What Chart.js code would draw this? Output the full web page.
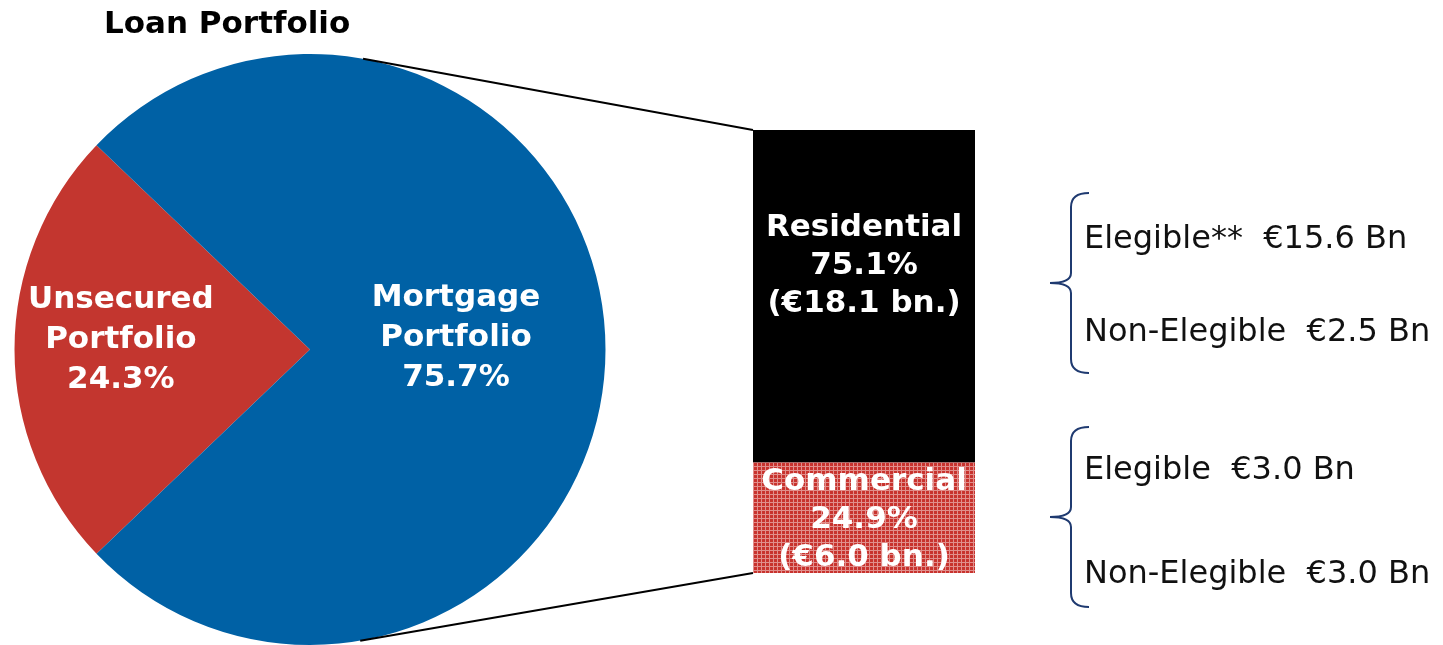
<!DOCTYPE html>
<html>
<head>
<meta charset="utf-8">
<title>Loan Portfolio</title>
<script src="https://cdn.jsdelivr.net/npm/chart.js@4.4.1/dist/chart.umd.min.js"></script>
<style>
  html, body { margin: 0; padding: 0; background: #fff; overflow: hidden; }
  #wrap { position: relative; width: 1443px; height: 645px; overflow: hidden; font-family: "DejaVu Sans", Verdana, sans-serif; }
  #wrap canvas { position: absolute; }
  #pieChart { left: 0; top: 0; }
  #barChart { left: 753px; top: 130px; }
  .title { position: absolute; left: 104px; top: 7px; font-weight: bold; font-size: 31px; line-height: 31px; color: #000; }
  .note { position: absolute; left: 1084px; font-size: 32px; line-height: 32px; white-space: pre; color: #111; }
</style>
</head>
<body>
<div id="wrap">
  <canvas id="pieChart" width="1443" height="645"></canvas>
  <canvas id="barChart" width="222" height="443"></canvas>
  <div class="title">Loan Portfolio</div>
  <div id="notes"></div>
</div>
<script>
// loan portfolio split
const portfolioNames = [['Unsecured', 'Portfolio'], ['Mortgage', 'Portfolio']];
const portfolioShares = [24.3, 75.7];
const portfolioColors = ['#C3362F', '#0061A5'];

// mortgage breakdown (stacked bottom -> top)
const mortgageNames = ['Commercial', 'Residential'];
const mortgageShares = [24.9, 75.1];
const mortgageAmounts = [6.0, 18.1];

// eligible / non-eligible amounts, € Bn
const residentialLabels = ['Elegible**', 'Non-Elegible'];
const residentialSplit = [15.6, 2.5];
const commercialLabels = ['Elegible', 'Non-Elegible'];
const commercialSplit = [3.0, 3.0];

const FONT_BOLD = 'bold 31px "DejaVu Sans", Verdana, sans-serif';

// red fill with a light grid for the commercial block
const barCanvas = document.getElementById('barChart');
function makeGridPattern(ctx) {
    const tile = document.createElement('canvas');
    tile.width = 4;
    tile.height = 4;
    const t = tile.getContext('2d');
    t.fillStyle = '#C8332E';
    t.fillRect(0, 0, 4, 4);
    t.fillStyle = 'rgba(255,255,255,0.45)';
    t.fillRect(0, 0, 4, 1);
    t.fillRect(0, 1, 1, 3);
    return ctx.createPattern(tile, 'repeat');
}

// labels inside the stacked bar
const barLabels = {
    id: 'barLabels',
    afterDatasetsDraw(chart, args, opts) {
        const ctx = chart.ctx;
        ctx.save();
        ctx.font = FONT_BOLD;
        ctx.fillStyle = '#fff';
        ctx.textAlign = 'center';
        chart.data.datasets.forEach((ds, i) => {
            const bar = chart.getDatasetMeta(i).data[0];
            const lines = [ds.label, ds.data[0].toFixed(1) + '%', '(€' + mortgageAmounts[i].toFixed(1) + ' bn.)'];
            const cy = (bar.y + bar.base) / 2 + opts.shift[i];
            lines.forEach((txt, k) => ctx.fillText(txt, bar.x, cy + (k - 1) * opts.lineHeight));
        });
        ctx.restore();
    }
};

const barChart = new Chart(barCanvas.getContext('2d'), {
    type: 'bar',
    data: {
        labels: ['Mortgage'],
        datasets: mortgageNames.map((name, i) => ({
            label: name,
            data: [mortgageShares[i]],
            backgroundColor: i === 0 ? makeGridPattern(barCanvas.getContext('2d')) : '#000000',
            borderWidth: 0,
            categoryPercentage: 1,
            barPercentage: 1
        }))
    },
    options: {
        responsive: false,
        animation: false,
        layout: { padding: 0 },
        scales: {
            x: { stacked: true, display: false },
            y: { stacked: true, display: false, min: 0, max: 100 }
        },
        plugins: {
            legend: { display: false },
            tooltip: { enabled: false },
            barLabels: { lineHeight: 38, shift: [10, -22] }
        }
    },
    plugins: [barLabels]
});

// pie labels, connector lines and braces
const pieExtras = {
    id: 'pieExtras',
    afterDatasetsDraw(chart, args, opts) {
        const ctx = chart.ctx;
        const arcs = chart.getDatasetMeta(0).data;
        ctx.save();
        ctx.font = FONT_BOLD;
        ctx.fillStyle = '#fff';
        ctx.textAlign = 'center';
        arcs.forEach((arc, i) => {
            const mid = (arc.startAngle + arc.endAngle) / 2;
            const r = arc.outerRadius * opts.labelRadius[i];
            const x = arc.x + Math.cos(mid) * r;
            const y = arc.y + Math.sin(mid) * r + opts.labelShift[i];
            const lines = [...portfolioNames[i], portfolioShares[i].toFixed(1) + '%'];
            lines.forEach((txt, k) => ctx.fillText(txt, x, y + (k - 1) * opts.lineHeight));
        });

        // tangent lines from the bar corners to the pie
        const c = arcs[0];
        const ox = barCanvas.offsetLeft, oy = barCanvas.offsetTop;
        const topBar = barChart.getDatasetMeta(1).data[0];
        const lowBar = barChart.getDatasetMeta(0).data[0];
        const corners = [
            { x: ox + topBar.x - topBar.width / 2, y: oy + topBar.y, side: -1 },
            { x: ox + lowBar.x - lowBar.width / 2, y: oy + lowBar.base, side: 1 }
        ];
        ctx.strokeStyle = '#000';
        ctx.lineWidth = 2;
        corners.forEach(p => {
            const dx = p.x - c.x, dy = p.y - c.y;
            const d = Math.hypot(dx, dy);
            const a = Math.atan2(dy, dx) + p.side * Math.acos(c.outerRadius / d);
            ctx.beginPath();
            ctx.moveTo(c.x + Math.cos(a) * c.outerRadius, c.y + Math.sin(a) * c.outerRadius);
            ctx.lineTo(p.x, p.y);
            ctx.stroke();
        });

        // curly braces
        ctx.strokeStyle = opts.braceColor;
        ctx.lineWidth = 2;
        opts.braces.forEach(b => {
            const xv = b.x + 21, xe = b.x + 39;
            ctx.beginPath();
            ctx.moveTo(xe, b.top);
            ctx.quadraticCurveTo(xv, b.top, xv, b.top + 14);
            ctx.lineTo(xv, b.mid - 10);
            ctx.quadraticCurveTo(xv, b.mid, b.x, b.mid);
            ctx.quadraticCurveTo(xv, b.mid, xv, b.mid + 10);
            ctx.lineTo(xv, b.bottom - 14);
            ctx.quadraticCurveTo(xv, b.bottom, xe, b.bottom);
            ctx.stroke();
        });
        ctx.restore();
    }
};

new Chart(document.getElementById('pieChart').getContext('2d'), {
    type: 'pie',
    data: {
        labels: portfolioNames.map(n => n.join(' ')),
        datasets: [{
            data: portfolioShares,
            backgroundColor: portfolioColors,
            borderWidth: 0
        }]
    },
    options: {
        responsive: false,
        animation: false,
        // unsecured slice centred on the left
        rotation: 270 - portfolioShares[0] * 1.8,
        layout: { padding: { left: 13, top: 54, right: 836, bottom: 0 } },
        plugins: {
            legend: { display: false },
            tooltip: { enabled: false },
            pieExtras: {
                labelRadius: [0.64, 0.494],
                labelShift: [-1.5, -4],
                lineHeight: 40,
                braceColor: '#1F3A70',
                braces: [
                    { x: 1050, top: 193, mid: 283, bottom: 373 },
                    { x: 1050, top: 427, mid: 517, bottom: 607 }
                ]
            }
        }
    },
    plugins: [pieExtras]
});

// eligibility notes next to the braces
const notes = document.getElementById('notes');
const noteRows = [
    [residentialLabels[0], residentialSplit[0], 221],
    [residentialLabels[1], residentialSplit[1], 314],
    [commercialLabels[0], commercialSplit[0], 452],
    [commercialLabels[1], commercialSplit[1], 556]
];
noteRows.forEach(([label, value, top]) => {
    const div = document.createElement('div');
    div.className = 'note';
    div.style.top = top + 'px';
    div.textContent = label + '  €' + value.toFixed(1) + ' Bn';
    notes.appendChild(div);
});
</script>
</body>
</html>
